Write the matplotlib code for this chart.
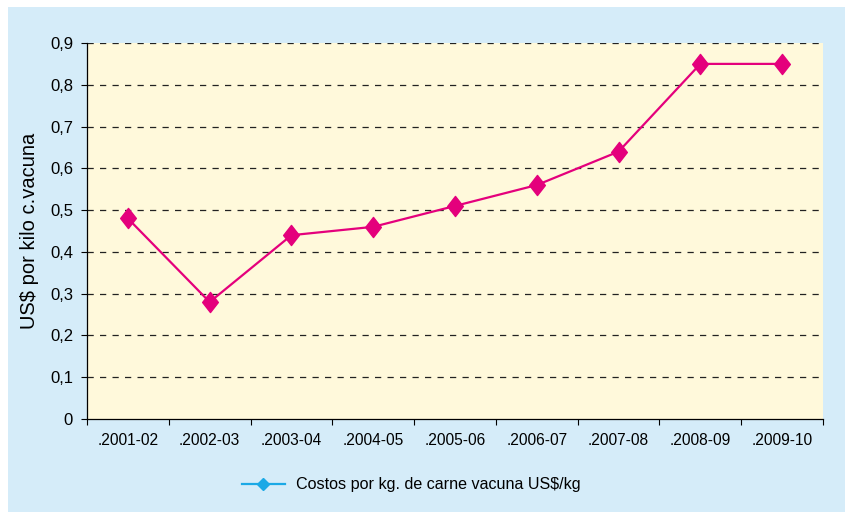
import matplotlib.pyplot as plt
from matplotlib.path import Path
from matplotlib.lines import Line2D
from matplotlib.patches import Rectangle

# data
seasons = ['.2001-02', '.2002-03', '.2003-04', '.2004-05', '.2005-06',
           '.2006-07', '.2007-08', '.2008-09', '.2009-10']
costos = [0.48, 0.28, 0.44, 0.46, 0.51, 0.56, 0.64, 0.85, 0.85]
yticks = [0, 0.1, 0.2, 0.3, 0.4, 0.5, 0.6, 0.7, 0.8, 0.9]
ytick_labels = ['0', '0,1', '0,2', '0,3', '0,4', '0,5', '0,6', '0,7', '0,8', '0,9']

plt.rcParams['font.family'] = ['Liberation Sans', 'DejaVu Sans']

pink = '#E4007C'
cyan = '#1BA9E6'
diamond = Path([(0, -1), (0.78, 0), (0, 1), (-0.78, 0), (0, -1)],
               [Path.MOVETO, Path.LINETO, Path.LINETO, Path.LINETO, Path.CLOSEPOLY])

fig = plt.figure(figsize=(8.48, 5.12), dpi=100, facecolor='white')
# light blue panel, with thin white margin at top, left and right
fig.patches.append(Rectangle((8 / 848, 0), 837 / 848, 505 / 512,
                             transform=fig.transFigure, facecolor='#D5ECF9',
                             edgecolor='none', zorder=-1))

ax = fig.add_axes([0.1026, 0.1816, 0.8679, 0.7344])
ax.set_facecolor('#FFF9DB')

x = list(range(len(seasons)))
ax.plot(x, costos, color=pink, lw=1.6, marker=diamond, ms=14.5,
        markerfacecolor=pink, markeredgecolor=pink, zorder=3)

ax.set_xlim(-0.5, len(seasons) - 0.5)
ax.set_ylim(0, 0.9)
ax.set_yticks(yticks)
ax.set_yticklabels(ytick_labels, fontsize=12)
ax.set_xticks([i - 0.5 for i in range(len(seasons) + 1)], minor=False)
ax.set_xticklabels([])
ax.set_xticks(x, minor=True)
ax.set_xticklabels(seasons, minor=True, fontsize=11.2)
ax.tick_params(axis='x', which='major', length=4, direction='out')
ax.tick_params(axis='x', which='minor', length=0, pad=10)
ax.tick_params(axis='y', length=4, direction='out', pad=6)

for v in yticks[1:]:
    ax.axhline(v, color='#222222', lw=0.9, ls=(0, (5, 5)), zorder=1)

for s in ['top', 'right']:
    ax.spines[s].set_visible(False)
ax.spines['left'].set_linewidth(0.9)
ax.spines['bottom'].set_linewidth(0.9)

ax.set_ylabel('US$ por kilo c.vacuna', fontsize=14.5, labelpad=8)

handle = Line2D([], [], color=cyan, lw=1.6, marker='D', ms=6,
                markerfacecolor=cyan, markeredgecolor=cyan)
fig.legend([handle], ['Costos por kg. de carne vacuna US$/kg'],
           loc='center', bbox_to_anchor=(0.485, 0.053), frameon=False,
           prop={'size': 11.6}, handlelength=2.7, handletextpad=0.7)

fig.savefig('out.png', dpi=100, facecolor=fig.get_facecolor())
